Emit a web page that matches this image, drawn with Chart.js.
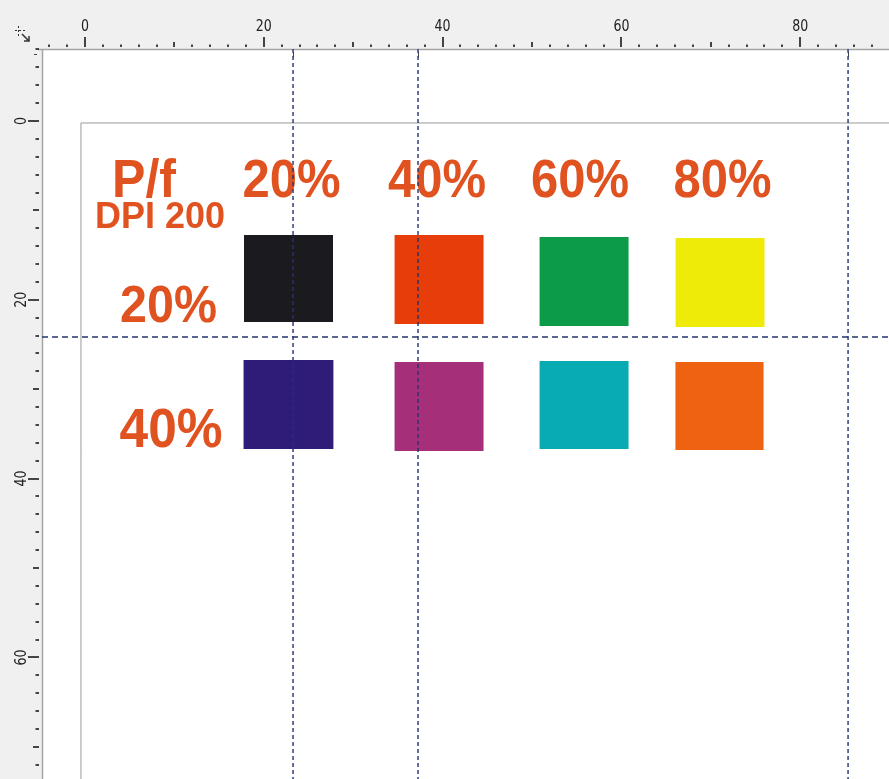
<!DOCTYPE html>
<html><head><meta charset="utf-8">
<script src="https://cdn.jsdelivr.net/npm/chart.js@4/dist/chart.umd.min.js"></script>
<style>
html,body{margin:0;padding:0;background:#f0f0f0;overflow:hidden}
#wrap{width:889px;height:779px;position:relative}
canvas{display:block}
</style>
</head><body><div id="wrap"><canvas id="c" width="889" height="779"></canvas></div>
<script>
// ---- data (ruler units, mm) ----
const columnLabels = ['20%', '40%', '60%', '80%'];
const rowLabels = ['20%', '40%'];
const titleText = 'P/f';
const subtitleText = 'DPI 200';
const swatchNames = ['20/20', '40/20', '60/20', '80/20', '20/40', '40/40', '60/40', '80/40'];
const swatchX = [22.76, 39.6, 55.82, 71.03, 22.76, 39.6, 55.82, 70.97];
const swatchY = [17.62, 17.73, 17.95, 18.06, 31.71, 31.94, 31.77, 31.88];
const swatchSide = [9.96, 10.0, 10.0, 10.0, 10.1, 10.0, 10.0, 9.9];
const swatchHeight = [9.73, 9.96, 9.96, 9.96, 9.96, 9.96, 9.85, 9.85];
const verticalGuides = [23.27, 37.25, 85.35];
const horizontalGuides = [24.16];
const xRulerLabels = [0, 20, 40, 60, 80];
const yRulerLabels = [0, 20, 40, 60];
const pageOrigin = [-0.45, 0.22];

// ---- styles ----
const swatchColors = ['#1b1b1f', '#e63d0b', '#0b9b49', '#eeeb09', '#2f1b78', '#a62f7a', '#07abb1', '#ee6312'];
const textColor = '#e0521f';
const guideColor = '#25336e';

const X_MIN = -4.81, X_MAX = 89.93, Y_MIN = -8.054, Y_MAX = 73.6;

const datasets = [];
datasets.push({
  label: 'page', data: [{x: pageOrigin[0], y: Y_MAX + 5}, {x: pageOrigin[0], y: pageOrigin[1]}, {x: X_MAX + 5, y: pageOrigin[1]}],
  borderColor: '#9a9a9a', borderWidth: 1, pointRadius: 0, fill: false, order: 3, tension: 0
});
swatchNames.forEach((n, i) => {
  const w = swatchSide[i] / 2, h = swatchHeight[i] / 2;
  datasets.push({
    label: n,
    data: [{x: swatchX[i] - w, y: swatchY[i] - h}, {x: swatchX[i] + w, y: swatchY[i] - h}],
    borderColor: 'rgba(0,0,0,0)', borderWidth: 0, pointRadius: 0,
    backgroundColor: swatchColors[i], fill: {value: swatchY[i] + h}, order: 2
  });
});
verticalGuides.forEach((g, i) => {
  datasets.push({
    label: 'vg' + i, data: [{x: g, y: Y_MIN}, {x: g, y: Y_MAX}],
    borderColor: guideColor, borderWidth: 1.4, borderDash: [4, 3], pointRadius: 0, fill: false, order: 0
  });
});
horizontalGuides.forEach((g, i) => {
  datasets.push({
    label: 'hg' + i, data: [{x: X_MIN, y: g}, {x: X_MAX, y: g}],
    borderColor: guideColor, borderWidth: 1.3, borderDash: [6, 4], pointRadius: 0, fill: false, order: 0
  });
});

const rulerPlugin = {
  id: 'ruler',
  beforeDraw(chart) {
    const ctx = chart.ctx, ca = chart.chartArea;
    const xs = chart.scales.x, ys = chart.scales.y;
    ctx.save();
    ctx.fillStyle = '#f0f0f0';
    ctx.fillRect(0, 0, chart.width, chart.height);
    ctx.fillStyle = '#ffffff';
    ctx.fillRect(ca.left, ca.top, ca.right - ca.left, ca.bottom - ca.top);
    ctx.strokeStyle = '#a5a5a5'; ctx.lineWidth = 1.5;
    ctx.beginPath(); ctx.moveTo(38, ca.top + 0.5); ctx.lineTo(chart.width, ca.top + 0.5); ctx.stroke();
    ctx.beginPath(); ctx.moveTo(ca.left + 0.5, ca.top); ctx.lineTo(ca.left + 0.5, chart.height); ctx.stroke();
    ctx.strokeStyle = '#1a1a1a'; ctx.lineWidth = 1.6;
    const tickLen = v => (v % 20 === 0 ? 10 : (v % 10 === 0 ? 5 : 2.5));
    for (let v = Math.ceil(X_MIN / 2) * 2; v <= X_MAX; v += 2) {
      const px = Math.round(xs.getPixelForValue(v));
      const L = tickLen(Math.abs(v));
      ctx.beginPath(); ctx.moveTo(px, 47 - L); ctx.lineTo(px, 47); ctx.stroke();
    }
    for (let v = Math.ceil(Y_MIN / 2) * 2; v <= Y_MAX; v += 2) {
      const py = Math.round(ys.getPixelForValue(v));
      const L = tickLen(Math.abs(v));
      ctx.beginPath(); ctx.moveTo(39 - L - 1, py); ctx.lineTo(39, py); ctx.stroke();
    }
    ctx.fillStyle = '#222';
    ctx.font = '15px "Liberation Sans Narrow", "DejaVu Sans Condensed", "Liberation Sans", sans-serif';
    ctx.textAlign = 'center'; ctx.textBaseline = 'middle';
    xRulerLabels.forEach(v => {
      const s = String(v);
      ctx.fillText(s, xs.getPixelForValue(v), 27, s.length * 8);
    });
    yRulerLabels.forEach(v => {
      const s = String(v);
      ctx.save();
      ctx.translate(22, ys.getPixelForValue(v));
      ctx.rotate(-Math.PI / 2);
      ctx.fillText(s, 0, 0, s.length * 8);
      ctx.restore();
    });
    ctx.strokeStyle = '#444'; ctx.lineWidth = 1;
    verticalGuides.forEach(g => {
      const px = Math.round(xs.getPixelForValue(g)) + 0.5;
      ctx.beginPath(); ctx.moveTo(px, 52); ctx.lineTo(px, 57); ctx.stroke();
    });
    ctx.beginPath(); ctx.moveTo(34, 54.5); ctx.lineTo(37, 54.5); ctx.stroke();
    ctx.strokeStyle = '#333';
    ctx.setLineDash([2, 2]);
    ctx.beginPath(); ctx.moveTo(15, 30.5); ctx.lineTo(26, 30.5); ctx.stroke();
    ctx.beginPath(); ctx.moveTo(18.5, 26); ctx.lineTo(18.5, 38); ctx.stroke();
    ctx.setLineDash([]);
    ctx.lineWidth = 1.5;
    ctx.beginPath(); ctx.moveTo(22, 34); ctx.lineTo(29, 41); ctx.stroke();
    ctx.beginPath(); ctx.moveTo(29, 36); ctx.lineTo(29, 41); ctx.lineTo(24, 41); ctx.stroke();
    ctx.restore();
  }
};

const textPlugin = {
  id: 'labels',
  beforeDatasetsDraw(chart, args, opts) {
    const ctx = chart.ctx, xs = chart.scales.x, ys = chart.scales.y;
    ctx.save();
    ctx.fillStyle = textColor;
    ctx.textBaseline = 'alphabetic';
    const fam = '"Liberation Sans", Arial, sans-serif';
    ctx.textAlign = 'center';
    ctx.font = 'bold 54px ' + fam;
    columnLabels.forEach((t, i) => {
      ctx.fillText(t, xs.getPixelForValue(opts.headerX[i]), ys.getPixelForValue(opts.headerBaseline), 98);
    });
    rowLabels.forEach((t, i) => {
      ctx.font = 'bold ' + opts.rowFont[i] + 'px ' + fam;
      ctx.fillText(t, xs.getPixelForValue(opts.rowX[i]), ys.getPixelForValue(opts.rowBaseline[i]), opts.rowWidth[i]);
    });
    ctx.textAlign = 'left';
    ctx.font = 'bold 54px ' + fam;
    ctx.fillText(titleText, xs.getPixelForValue(opts.titleX), ys.getPixelForValue(opts.titleBaseline), 64);
    ctx.font = 'bold 36px ' + fam;
    ctx.fillText(subtitleText, xs.getPixelForValue(opts.subX), ys.getPixelForValue(opts.subBaseline), 130);
    ctx.restore();
  }
};

new Chart(document.getElementById('c'), {
  type: 'line',
  data: {datasets},
  options: {
    responsive: false, animation: false, events: [],
    layout: {padding: {left: 42, top: 49, right: 0, bottom: 0}},
    scales: {
      x: {type: 'linear', min: X_MIN, max: X_MAX, display: false},
      y: {type: 'linear', min: Y_MIN, max: Y_MAX, reverse: true, display: false}
    },
    elements: {line: {tension: 0}},
    plugins: {
      legend: {display: false}, tooltip: {enabled: false},
      labels: {
        headerX: [23.1, 39.37, 55.37, 71.31], headerBaseline: 8.5,
        rowX: [9.34, 9.62], rowBaseline: [22.48, 36.47], rowFont: [52, 55], rowWidth: [97, 103],
        titleX: 3.02, titleBaseline: 8.5, subX: 1.12, subBaseline: 11.97
      }
    }
  },
  plugins: [rulerPlugin, textPlugin]
});
</script>
</body></html>
